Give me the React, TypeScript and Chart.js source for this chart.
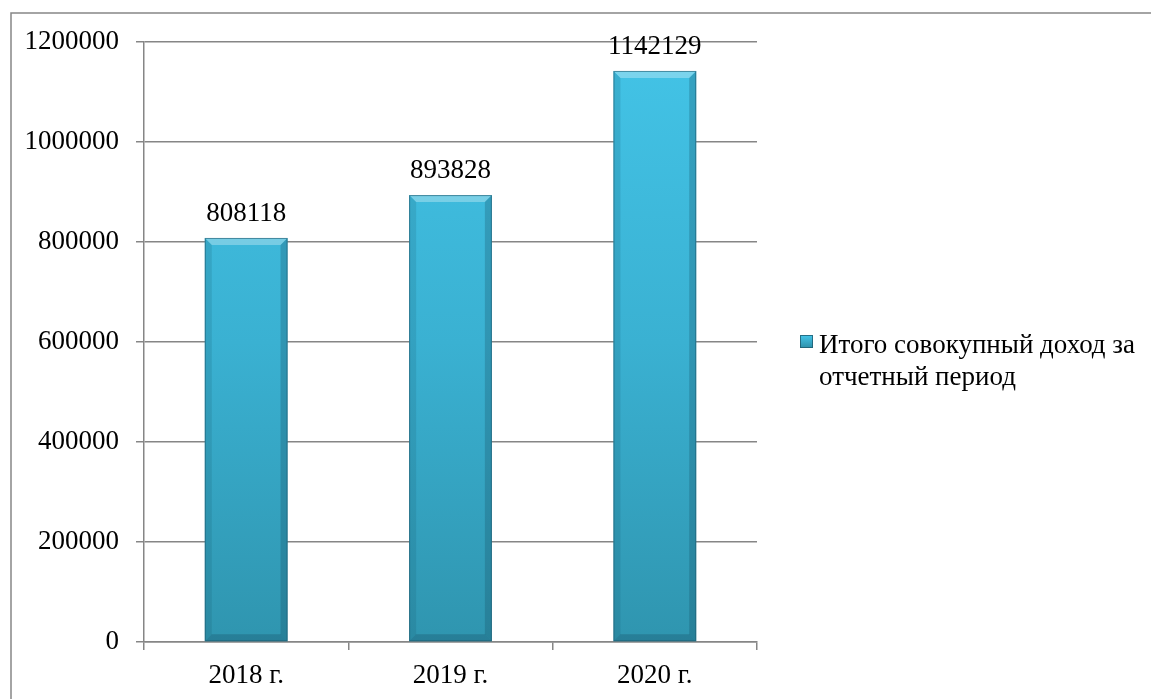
import React, { useEffect, useRef } from "react";
import { Chart, registerables } from "chart.js";

Chart.register(...registerables);

const categories = ["2018 г.", "2019 г.", "2020 г."];
const seriesName = "Итого совокупный доход за отчетный период";
const legendLines = ["Итого совокупный доход за", "отчетный период"];
const incomeValues = [808118, 893828, 1142129];
const yTicks = [0, 200000, 400000, 600000, 800000, 1000000, 1200000];

const FONT = "'Liberation Serif', 'Times New Roman', serif";
const FS = 27;
const GRID = "#868686";

const framePlugin = {
  id: "frame",
  beforeDraw(chart: any) {
    const ctx = chart.ctx;
    ctx.save();
    ctx.fillStyle = "#ffffff";
    ctx.fillRect(0, 0, chart.width, chart.height);
    ctx.strokeStyle = GRID;
    ctx.lineWidth = 1.5;
    ctx.beginPath();
    ctx.moveTo(11, chart.height + 5);
    ctx.lineTo(11, 13);
    ctx.lineTo(chart.width + 5, 13);
    ctx.stroke();
    ctx.restore();
  },
};

const bevelPlugin = {
  id: "bevel",
  afterDatasetsDraw(chart: any) {
    const ctx = chart.ctx;
    const meta = chart.getDatasetMeta(0);
    ctx.save();
    meta.data.forEach((bar: any) => {
      const w = bar.width;
      const l = bar.x - w / 2;
      const r = bar.x + w / 2;
      const t = bar.y;
      const b = bar.base;
      const s = 7;
      ctx.fillStyle = "rgba(255,255,255,0.3)";
      ctx.beginPath();
      ctx.moveTo(l, t);
      ctx.lineTo(r, t);
      ctx.lineTo(r - s, t + s);
      ctx.lineTo(l + s, t + s);
      ctx.closePath();
      ctx.fill();
      ctx.fillStyle = "rgba(20,80,100,0.16)";
      ctx.beginPath();
      ctx.moveTo(l, t);
      ctx.lineTo(l + s, t + s);
      ctx.lineTo(l + s, b - s);
      ctx.lineTo(l, b);
      ctx.closePath();
      ctx.fill();
      ctx.fillStyle = "rgba(20,70,90,0.26)";
      ctx.beginPath();
      ctx.moveTo(r, t);
      ctx.lineTo(r - s, t + s);
      ctx.lineTo(r - s, b - s);
      ctx.lineTo(r, b);
      ctx.closePath();
      ctx.fill();
      ctx.fillStyle = "rgba(20,70,90,0.28)";
      ctx.beginPath();
      ctx.moveTo(l, b);
      ctx.lineTo(l + s, b - s);
      ctx.lineTo(r - s, b - s);
      ctx.lineTo(r, b);
      ctx.closePath();
      ctx.fill();
      ctx.strokeStyle = "rgba(30,90,110,0.6)";
      ctx.lineWidth = 1;
      ctx.strokeRect(l + 0.5, t + 0.5, w - 1, b - t - 1);
    });
    ctx.restore();
  },
};

const valueLabelPlugin = {
  id: "valueLabels",
  afterDatasetsDraw(chart: any) {
    const ctx = chart.ctx;
    const meta = chart.getDatasetMeta(0);
    const data = chart.data.datasets[0].data;
    ctx.save();
    ctx.font = `${FS}px ${FONT}`;
    ctx.fillStyle = "#000000";
    ctx.textAlign = "center";
    ctx.textBaseline = "alphabetic";
    meta.data.forEach((bar: any, i: number) => {
      ctx.fillText(String(data[i]), bar.x, bar.y - 17);
    });
    ctx.restore();
  },
};

const customLegendPlugin = {
  id: "customLegend",
  afterDraw(chart: any) {
    const ctx = chart.ctx;
    const area = chart.chartArea;
    const x = area.right + 43;
    const y = (area.top + area.bottom) / 2;
    ctx.save();
    const box = 13;
    const bx = x;
    const by = y - 7;
    const g = ctx.createLinearGradient(0, by, 0, by + box);
    g.addColorStop(0, "#45c6ea");
    g.addColorStop(1, "#2d8fa9");
    ctx.fillStyle = g;
    ctx.fillRect(bx, by, box, box);
    ctx.strokeStyle = "rgba(30,90,110,0.8)";
    ctx.lineWidth = 1;
    ctx.strokeRect(bx + 0.5, by + 0.5, box - 1, box - 1);
    ctx.font = `${FS}px ${FONT}`;
    ctx.fillStyle = "#000000";
    ctx.textAlign = "left";
    ctx.textBaseline = "alphabetic";
    ctx.fillText(legendLines[0], x + 19, y + 11);
    ctx.fillText(legendLines[1], x + 19, y + 43);
    ctx.restore();
  },
};

export default function App() {
  const canvasRef = useRef<HTMLCanvasElement | null>(null);

  useEffect(() => {
    const canvas = canvasRef.current;
    if (!canvas) return;
    const chart = new Chart(canvas, {
      type: "bar",
      data: {
        labels: categories,
        datasets: [
          {
            label: seriesName,
            data: incomeValues,
            backgroundColor: (c: any) => {
              const ch = c.chart;
              const area = ch.chartArea;
              if (!area) return "#3ab0d0";
              const el = c.element;
              const top = el && isFinite(el.y) ? el.y : area.top;
              const bottom = area.bottom;
              const g = ch.ctx.createLinearGradient(0, top, 0, bottom);
              g.addColorStop(0, "#43c4e7");
              g.addColorStop(0.5, "#3ab1d2");
              g.addColorStop(1, "#2f95af");
              return g;
            },
            borderWidth: 0,
            categoryPercentage: 1,
            barPercentage: 0.405,
          },
        ],
      },
      options: {
        animation: false,
        responsive: false,
        maintainAspectRatio: false,
        layout: { padding: { top: 42, right: 394, left: 0, bottom: 0 } },
        plugins: {
          legend: { display: false },
          tooltip: { enabled: false },
        },
        scales: {
          x: {
            offset: true,
            grid: {
              display: true,
              drawOnChartArea: false,
              offset: true,
              tickLength: 8,
              color: GRID,
              lineWidth: 1.5,
            },
            border: { display: true, color: GRID, width: 1.5 },
            ticks: {
              color: "#000000",
              font: { family: FONT, size: FS },
              padding: 10,
            },
            afterFit: (s: any) => {
              s.height = 57;
            },
          },
          y: {
            min: 0,
            max: 1200000,
            afterBuildTicks: (s: any) => {
              s.ticks = yTicks.map((v) => ({ value: v }));
            },
            grid: {
              color: GRID,
              lineWidth: 1.5,
              tickLength: 8,
            },
            border: { display: true, color: GRID, width: 1.5 },
            ticks: {
              color: "#000000",
              font: { family: FONT, size: FS },
              padding: 17,
              callback: (v: any) => String(v),
            },
            afterFit: (s: any) => {
              s.width = 144;
            },
          },
        },
      },
      plugins: [framePlugin, bevelPlugin, valueLabelPlugin, customLegendPlugin],
    });
    return () => chart.destroy();
  }, []);

  return (
    <div style={{ position: "fixed", left: 0, top: 0, width: 1151, height: 699, background: "#fff" }}>
      <canvas ref={canvasRef} width={1151} height={699} style={{ width: 1151, height: 699 }} />
    </div>
  );
}
